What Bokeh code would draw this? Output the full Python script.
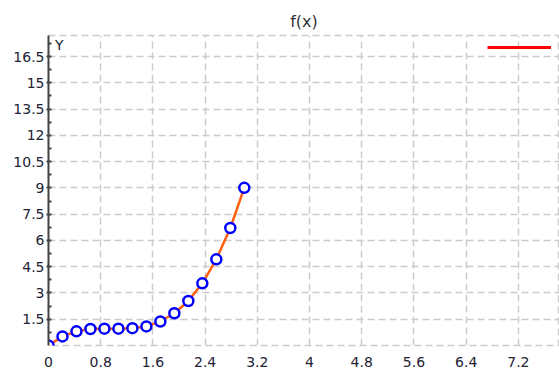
from bokeh.plotting import figure
from bokeh.models import (Range1d, FixedTicker, Label, Legend, LegendItem, ColumnDataSource)
from bokeh.embed import file_html
from bokeh.resources import INLINE

# ---- data ----
x_vals = [0.0, 0.2143, 0.4286, 0.6429, 0.8571, 1.0714, 1.2857, 1.5,
          1.7143, 1.9286, 2.1429, 2.3571, 2.5714, 2.7857, 3.0]
y_vals = [0.0, 0.52, 0.81, 0.94, 0.96, 0.96, 0.99, 1.09,
          1.37, 1.84, 2.54, 3.55, 4.92, 6.71, 9.0]
x_ticks = [0, 0.8, 1.6, 2.4, 3.2, 4, 4.8, 5.6, 6.4, 7.2]
x_tick_labels = ["0", "0.8", "1.6", "2.4", "3.2", "4", "4.8", "5.6", "6.4", "7.2"]
y_ticks = [1.5, 3, 4.5, 6, 7.5, 9, 10.5, 12, 13.5, 15, 16.5]
y_tick_labels = ["1.5", "3", "4.5", "6", "7.5", "9", "10.5", "12", "13.5", "15", "16.5"]
y_minor_ticks = [0.75, 2.25, 3.75, 5.25, 6.75, 8.25, 9.75, 11.25, 12.75, 14.25, 15.75, 17.25]
title_text = "f(x)"
y_label_text = "Y"
legend_label = " "

FONT = "DejaVu Sans"

p = figure(width=559, height=369, output_backend="svg", toolbar_location=None,
           x_range=Range1d(0, 7.83), y_range=Range1d(0, 17.7),
           min_border_left=48, min_border_right=0, min_border_top=35, min_border_bottom=20)

p.title.text = title_text
p.title.align = "center"
p.title.text_font = FONT
p.title.text_font_size = "16px"
p.title.text_font_style = "normal"
p.title.text_color = "#333333"

p.background_fill_color = "white"
p.border_fill_color = "white"
p.outline_line_color = "#cccccc"
p.outline_line_dash = "7 4"
p.outline_line_width = 1.5

# grids
for g in (p.xgrid, p.ygrid):
    g.grid_line_color = "#cccccc"
    g.grid_line_dash = "7 4"
    g.grid_line_width = 1.5
p.xgrid.ticker = FixedTicker(ticks=x_ticks)
p.ygrid.ticker = FixedTicker(ticks=y_ticks)

# x axis
xa = p.xaxis[0]
xa.ticker = FixedTicker(ticks=x_ticks)
xa.major_label_overrides = {t: l for t, l in zip(x_ticks, x_tick_labels)}
xa.axis_line_color = None
xa.major_tick_line_color = None
xa.minor_tick_line_color = None
xa.major_label_text_font = FONT
xa.major_label_text_font_size = "14px"
xa.major_label_text_color = "#222233"
xa.major_label_standoff = 5

# y axis
ya = p.yaxis[0]
ya.ticker = FixedTicker(ticks=y_ticks, minor_ticks=y_minor_ticks)
ya.major_label_overrides = {t: l for t, l in zip(y_ticks, y_tick_labels)}
ya.axis_line_color = "#444444"
ya.axis_line_width = 2
ya.major_tick_line_color = "#444444"
ya.major_tick_line_width = 2
ya.major_tick_in = 3
ya.major_tick_out = 2
ya.minor_tick_line_color = "#444444"
ya.minor_tick_line_width = 2
ya.minor_tick_in = 3
ya.minor_tick_out = 0
ya.major_label_text_font = FONT
ya.major_label_text_font_size = "14px"
ya.major_label_text_color = "#222233"
ya.major_label_standoff = 2

src = ColumnDataSource(data=dict(x=x_vals, y=y_vals))
p.line("x", "y", source=src, line_color="#FF6010", line_width=2.5)
p.scatter("x", "y", source=src, size=10, marker="circle", line_color="#0000FF",
          line_width=2.5, fill_color="white")

p.add_layout(Label(x=0.1, y=16.7, text=y_label_text, text_font=FONT,
                   text_font_size="14px", text_color="#222233"))

# legend (red line sample)
dummy_src = ColumnDataSource(data=dict(x=[float("nan")], y=[float("nan")]))
dummy = p.line("x", "y", source=dummy_src, line_color="#FF0000", line_width=3)
leg = Legend(items=[LegendItem(label=legend_label, renderers=[dummy])],
             location=(439, 292), padding=0, margin=0, spacing=0,
             glyph_width=64, glyph_height=12, label_height=12, label_standoff=4,
             label_text_font=FONT, label_text_font_size="12px",
             label_text_color="#FF8C00", border_line_color=None,
             background_fill_alpha=0)
p.add_layout(leg, "center")

open("out.html", "w").write(file_html(p, INLINE))
